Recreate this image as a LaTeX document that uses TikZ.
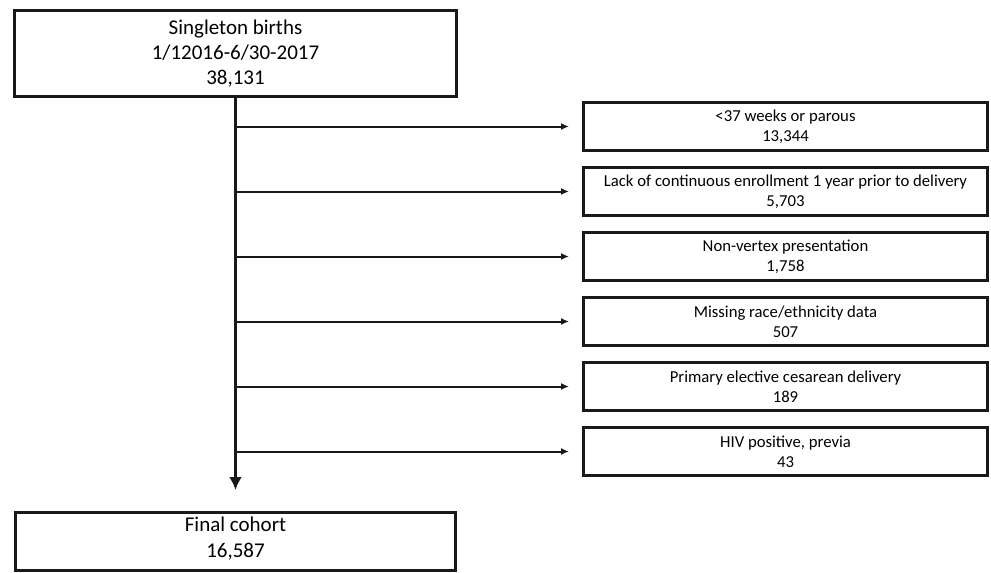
\documentclass[tikz,border=0pt]{standalone}
\usepackage{fontspec}
\setmainfont{Carlito}
\usetikzlibrary{arrows.meta}
\begin{document}
\begin{tikzpicture}[x=1pt,y=-1pt,
  bigbox/.style={draw=black!90, line width=3pt, minimum width=442pt, minimum height=86pt, align=center, inner sep=0pt, font=\fontsize{21}{25}\selectfont},
  finalbox/.style={draw=black!90, line width=3pt, minimum width=440pt, minimum height=58pt, align=center, inner sep=0pt, font=\fontsize{21}{26}\selectfont},
  exbox/.style={draw=black!90, line width=3pt, minimum width=404pt, minimum height=48pt, align=center, inner sep=0pt, font=\fontsize{16.7}{20}\selectfont},
  trunk/.style={draw=black!90, line width=3pt, -{Latex[length=13pt,width=13pt]}},
  branch/.style={draw=black!90, line width=2pt, -{Latex[length=8pt,width=7pt]}, shorten >=13pt}
]
\useasboundingbox (0,0) rectangle (991,573);
\node[bigbox] (top) at (235.5,53.5) {Singleton births\\1/12016-6/30-2017\\38,131};
\node[finalbox] (final) at (235.5,541.5) {Final cohort\\16,587\rule[-8pt]{0pt}{0pt}};
\node[exbox] (r1) at (785.5,126.5) {<37 weeks or parous\\13,344};
\node[exbox] (r2) at (785.5,191.5) {Lack of continuous enrollment 1 year prior to delivery\\5,703};
\node[exbox] (r3) at (785.5,256.5) {Non-vertex presentation\\1,758};
\node[exbox] (r4) at (785.5,321.5) {Missing race/ethnicity data\\507};
\node[exbox] (r5) at (785.5,386.5) {Primary elective cesarean delivery\\189};
\node[exbox] (r6) at (785.5,451.5) {HIV positive, previa\\43};
\draw[trunk, shorten >=21pt] (top.south) -- (final.north);
\foreach \r in {r1,r2,r3,r4,r5,r6}
  \draw[branch] (top.south |- \r.west) -- (\r.west);
\end{tikzpicture}
\end{document}
